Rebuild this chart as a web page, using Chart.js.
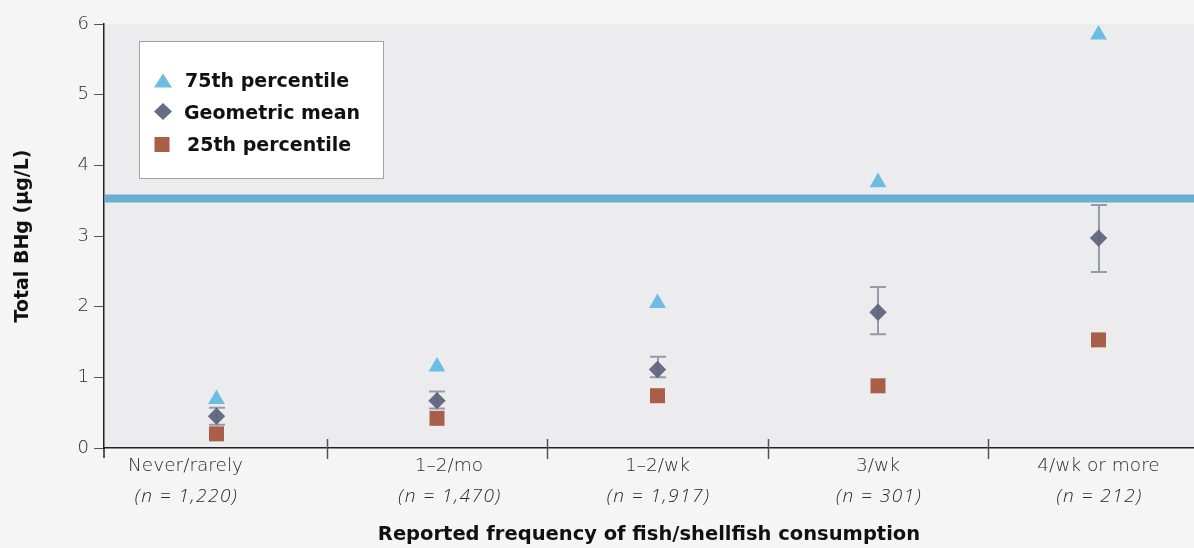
<!DOCTYPE html>
<html>
<head>
<meta charset="utf-8">
<script src="https://cdn.jsdelivr.net/npm/chart.js@4.4.1/dist/chart.umd.min.js"></script>
<style>
  html, body { margin: 0; padding: 0; background: #f5f5f5; }
  #wrap { position: relative; width: 1194px; height: 548px; }
  canvas { display: block; }
</style>
</head>
<body>
<div id="wrap"><canvas id="c" width="1194" height="548"></canvas></div>
<script>
// ---- data ----
const categories = ['Never/rarely', '1–2/mo', '1–2/wk', '3/wk', '4/wk or more'];
const sampleSizes = ['(n = 1,220)', '(n = 1,470)', '(n = 1,917)', '(n = 301)', '(n = 212)'];
const p75 = [0.69, 1.15, 2.05, 3.76, 5.85];
const geoMean = [0.45, 0.67, 1.11, 1.92, 2.97];
const ciLow = [0.33, 0.56, 1.00, 1.61, 2.49];
const ciHigh = [0.57, 0.80, 1.29, 2.28, 3.44];
const p25 = [0.20, 0.42, 0.74, 0.88, 1.53];
const referenceLevel = 3.53;
const yTicks = [0, 1, 2, 3, 4, 5, 6];
const legendLabels = ['75th percentile', 'Geometric mean', '25th percentile'];

// ---- style / layout constants ----
const C75 = '#6bbde3', CGM = '#676d85', C25 = '#a95e4a';
const labelOffsetPx = [-31, 12, 0, 0, 0];
const lightFont = '"DejaVu Sans"';
const italicFont = '"Open Sans"';
const boldFont = '"DejaVu Sans"';

const toPts = arr => arr.map((v, i) => ({ x: i + 1, y: v }));

const bgPlugin = {
  id: 'bg',
  beforeDraw(chart) {
    const { ctx, chartArea: a } = chart;
    ctx.save();
    ctx.fillStyle = '#f5f5f5';
    ctx.fillRect(0, 0, chart.width, chart.height);
    ctx.fillStyle = '#ececee';
    ctx.fillRect(a.left, a.top, a.right - a.left, a.bottom - a.top);
    ctx.restore();
  },
  beforeDatasetsDraw(chart) {
    const { ctx, chartArea: a, scales: { y } } = chart;
    const py = y.getPixelForValue(referenceLevel);
    ctx.save();
    ctx.strokeStyle = '#68afd3';
    ctx.lineWidth = 8;
    ctx.beginPath();
    ctx.moveTo(a.left + 1, py);
    ctx.lineTo(a.right, py);
    ctx.stroke();
    ctx.restore();
  }
};

const errPlugin = {
  id: 'err',
  afterDatasetsDraw(chart) {
    const { ctx, scales: { x, y } } = chart;
    ctx.save();
    ctx.strokeStyle = 'rgba(95,100,125,0.6)';
    ctx.lineWidth = 2;
    geoMean.forEach((m, i) => {
      const px = Math.round(x.getPixelForValue(i + 1));
      const yl = y.getPixelForValue(ciLow[i]);
      const yh = y.getPixelForValue(ciHigh[i]);
      ctx.beginPath();
      ctx.moveTo(px, yl); ctx.lineTo(px, yh);
      ctx.moveTo(px - 8, yl); ctx.lineTo(px + 8, yl);
      ctx.moveTo(px - 8, yh); ctx.lineTo(px + 8, yh);
      ctx.stroke();
    });
    ctx.restore();
  }
};

const axisPlugin = {
  id: 'axisExtras',
  afterDraw(chart) {
    const { ctx, chartArea: a, scales: { x } } = chart;
    ctx.save();
    // tick marks between categories
    ctx.strokeStyle = '#555';
    ctx.lineWidth = 1.5;
    for (let i = 1; i < categories.length; i++) {
      const px = Math.round(x.getPixelForValue(i + 0.5)) + 0.5;
      ctx.beginPath();
      ctx.moveTo(px, a.bottom - 9);
      ctx.lineTo(px, a.bottom + 11);
      ctx.stroke();
    }
    ctx.strokeStyle = '#222';
    ctx.beginPath();
    ctx.moveTo(a.left, a.bottom);
    ctx.lineTo(a.left, a.bottom + 10);
    ctx.stroke();
    // category labels
    ctx.fillStyle = '#2a2a2a';
    ctx.textAlign = 'center';
    ctx.textBaseline = 'middle';
    categories.forEach((c, i) => {
      const px = x.getPixelForValue(i + 1) + labelOffsetPx[i];
      ctx.letterSpacing = '0px';
      ctx.font = '200 18.5px ' + lightFont;
      ctx.fillText(c, px, a.bottom + 18);
      ctx.font = 'italic 300 19px ' + italicFont;
      ctx.letterSpacing = '1.5px';
      ctx.fillText(sampleSizes[i], px + 1, a.bottom + 49);
    });
    ctx.letterSpacing = '0px';
    // legend
    const lx = 139, ly = 41, lw = 245, lh = 138;
    ctx.fillStyle = '#ffffff';
    ctx.fillRect(lx, ly, lw, lh);
    ctx.strokeStyle = '#a3a3a3';
    ctx.lineWidth = 1;
    ctx.strokeRect(lx + 0.5, ly + 0.5, lw - 1, lh - 1);
    // markers
    ctx.fillStyle = C75;
    ctx.beginPath();
    ctx.moveTo(163, 73.5); ctx.lineTo(172, 87.5); ctx.lineTo(154, 87.5); ctx.closePath();
    ctx.fill();
    ctx.fillStyle = CGM;
    ctx.beginPath();
    ctx.moveTo(163, 103); ctx.lineTo(172, 111.5); ctx.lineTo(163, 120); ctx.lineTo(154, 111.5); ctx.closePath();
    ctx.fill();
    ctx.fillStyle = C25;
    ctx.fillRect(154.5, 137, 15, 15);
    ctx.fillStyle = '#111';
    ctx.textAlign = 'left';
    ctx.textBaseline = 'alphabetic';
    ctx.font = 'bold 19px ' + boldFont;
    ctx.fillText(legendLabels[0], 185, 87);
    ctx.fillText(legendLabels[1], 184, 119);
    ctx.fillText(legendLabels[2], 187, 151);
    ctx.restore();
  }
};

new Chart(document.getElementById('c'), {
  type: 'scatter',
  data: {
    datasets: [
      { label: legendLabels[0], data: toPts(p75), pointStyle: 'triangle', pointRadius: 9.7, pointHoverRadius: 9.7,
        backgroundColor: C75, borderWidth: 0 },
      { label: legendLabels[1], data: toPts(geoMean), pointStyle: 'rectRot', pointRadius: 8.7, pointHoverRadius: 8.7,
        backgroundColor: CGM, borderWidth: 0 },
      { label: legendLabels[2], data: toPts(p25), pointStyle: 'rect', pointRadius: 10.6, pointHoverRadius: 10.6,
        backgroundColor: C25, borderWidth: 0 }
    ]
  },
  options: {
    responsive: false,
    animation: false,
    events: [],
    layout: { autoPadding: false, padding: { left: 0, top: 24, right: 0, bottom: 0 } },
    plugins: { legend: { display: false }, tooltip: { enabled: false } },
    scales: {
      x: {
        type: 'linear',
        min: 0.4898, max: 5.433,
        ticks: { display: false },
        grid: { display: false },
        border: { display: true, color: '#222', width: 1.5 },
        title: { display: true, text: 'Reported frequency of fish/shellfish consumption',
          font: { family: 'DejaVu Sans', size: 19.5, weight: 'bold' }, color: '#111', padding: { top: 0, bottom: 1 } },
        afterFit: s => { s.height = 100; s.paddingLeft = 0; s.paddingRight = 0; }
      },
      y: {
        min: 0, max: 6,
        afterBuildTicks: s => { s.ticks = yTicks.map(v => ({ value: v })); },
        ticks: { font: { family: 'DejaVu Sans', size: 18, weight: '200' }, color: '#2a2a2a', padding: 5 },
        grid: { display: true, drawOnChartArea: false, drawTicks: true, tickLength: 10, color: '#555', lineWidth: 1 },
        border: { display: true, color: '#222', width: 1.5 },
        title: { display: true, text: 'Total BHg (µg/L)',
          font: { family: 'DejaVu Sans', size: 19, weight: 'bold' }, color: '#111', padding: { top: 12, bottom: 0 } },
        afterFit: s => { s.width = 104; }
      }
    }
  },
  plugins: [bgPlugin, errPlugin, axisPlugin]
});
</script>
</body>
</html>
